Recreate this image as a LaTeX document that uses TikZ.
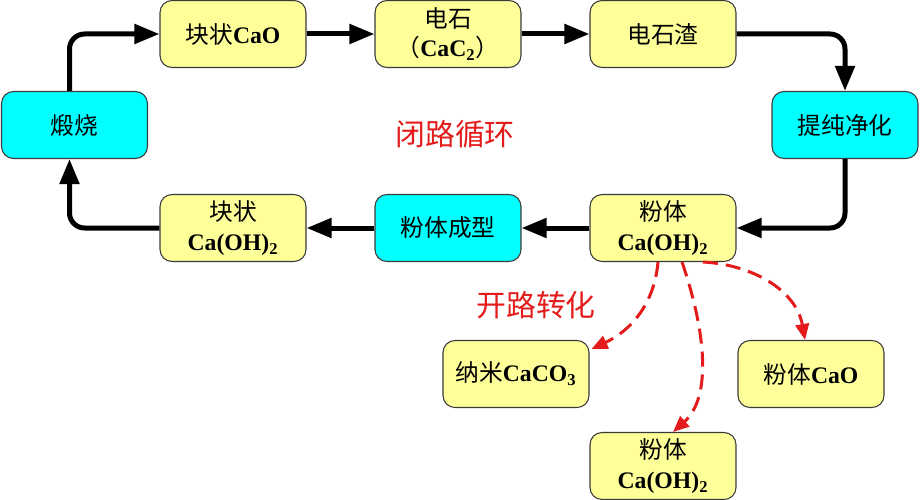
\documentclass[tikz,border=0pt]{standalone}
\usepackage{fontspec}
\setmainfont{Liberation Serif}
\newfontfamily\cjk{Noto Sans CJK SC}
\usetikzlibrary{arrows.meta}
\definecolor{boxfill}{HTML}{FFFF99}
\definecolor{procfill}{HTML}{00FFFF}
\definecolor{edge}{HTML}{3A3A3A}
\definecolor{route}{HTML}{E31B1B}
\newcommand{\chem}[1]{{\rmfamily\bfseries #1}}
\tikzset{
  box/.style={draw=edge, fill=boxfill, rounded corners=0.24cm, align=center,
              minimum width=2.92cm, minimum height=1.34cm, inner sep=2pt,
              font=\cjk\fontsize{13.5}{17}\selectfont, line width=0.6pt},
  procbox/.style={box, fill=procfill},
  ar/.style={-{Triangle[length=0.5cm,width=0.38cm]}, line width=0.1cm,
             rounded corners=0.3cm},
  ardash/.style={-{Triangle[length=0.32cm,width=0.27cm]}, line width=0.06cm,
                 draw=route, dash pattern=on 0.3cm off 0.16cm},
  tag/.style={font=\cjk\fontsize{17}{20}\selectfont, text=route}
}

\begin{document}
\begin{tikzpicture}[x=0.02cm,y=-0.02cm]
  \useasboundingbox (0,0) rectangle (920,500);
  % closed loop
  \node[box] (lumpcao) at (233,34) {块状\chem{CaO}};
  \node[box] (carbide) at (448,34) {电石\\（\chem{CaC\textsubscript{2}}）};
  \node[box] (slag) at (663,34) {电石渣};
  \node[procbox] (calcine) at (74.5,125) {煅烧};
  \node[procbox] (purify) at (845,125) {提纯净化};
  \node[box] (lumpoh) at (233,228) {块状\\\chem{Ca(OH)\textsubscript{2}}};
  \node[procbox] (shaping) at (448,228) {粉体成型};
  \node[box] (powderoh) at (663,228) {粉体\\\chem{Ca(OH)\textsubscript{2}}};
  % open route
  \node[box] (nanocc) at (516,374) {纳米\chem{CaCO\textsubscript{3}}};
  \node[box] (powdercao) at (811,374) {粉体\chem{CaO}};
  \node[box] (powderoh2) at (663,466) {粉体\\\chem{Ca(OH)\textsubscript{2}}};

  \node[tag] (closed) at (455,134) {闭路循环};
  \node[tag] (open) at (536,305) {开路转化};

  \draw[ar] ([xshift=-0.1cm]calcine.north) |- (lumpcao.west);
  \draw[ar] (lumpcao) -- (carbide);
  \draw[ar] (carbide) -- (slag);
  \draw[ar] (slag.east) -| (purify.north);
  \draw[ar] (purify.south) |- (powderoh.east);
  \draw[ar] (powderoh) -- (shaping);
  \draw[ar] (shaping) -- (lumpoh);
  \draw[ar] (lumpoh.west) -| ([xshift=-0.1cm]calcine.south);

  \draw[ardash] ([xshift=-0.1cm]powderoh.south)
    to[out=-95,in=25] ([shift={(0.04cm,-0.18cm)}]nanocc.north east);
  \draw[ardash] ([xshift=0.38cm]powderoh.south)
    .. controls +(0.48cm,-1.4cm) and +(0.78cm,0.7cm) .. ([xshift=0.2cm]powderoh2.north);
  \draw[ardash] ([xshift=0.8cm]powderoh.south)
    to[out=-3,in=100] ([xshift=-0.12cm]powdercao.north);
\end{tikzpicture}
\end{document}
